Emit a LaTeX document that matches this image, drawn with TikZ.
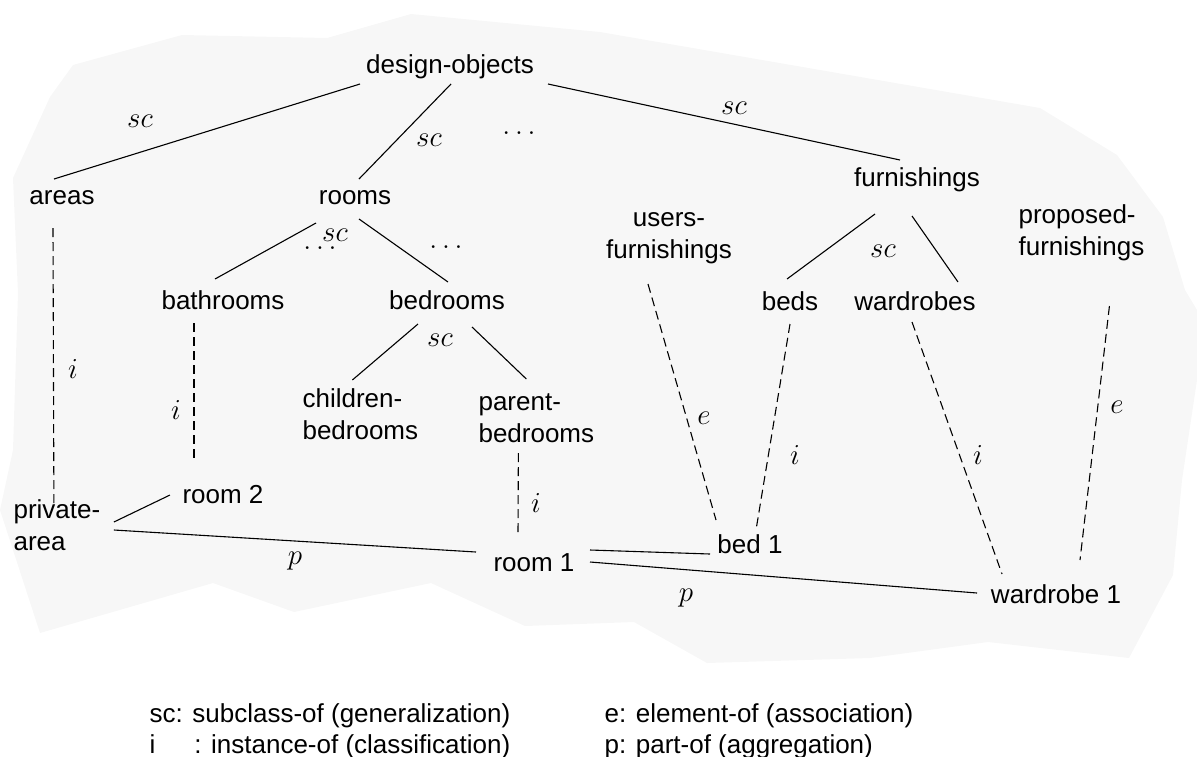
\RequirePackage{fix-cm}
\documentclass[tikz,border=0pt]{standalone}
\usepackage{fontspec}
\setmainfont{Liberation Sans}
\usetikzlibrary{calc}
\definecolor{blobgray}{RGB}{247,247,247}

\begin{document}
\begin{tikzpicture}[x=0.5pt, y=-0.5pt, line width=0.55pt]

  % Styles for the class names, the link labels and the dashed links
  \tikzset{
    concept/.style={inner sep=0pt, font=\fontsize{13}{16}\selectfont},
    rel/.style={inner sep=0pt, font=\fontsize{14.5}{17}\selectfont},
    dashlink/.style={dash pattern=on 4.5pt off 2.5pt}
  }

  \useasboundingbox (0,0) rectangle (1197,756);

  % 1. Grey background outline
  \fill[blobgray] (73,65) -- (182,35) -- (327,38) -- (411,14) -- (600,32)
    -- (1040,108) -- (1117,155) -- (1163,217) -- (1185,290) -- (1197,310)
    -- (1197,380) -- (1182,480) -- (1173,575) -- (1129,658) -- (988,642)
    -- (870,658) -- (707,663) -- (634,622) -- (525,626) -- (431,583)
    -- (294,612) -- (213,583) -- (40,633) -- (0,510) -- (13,450)
    -- (18,293) -- (13,178) -- (50,97) -- cycle;

  % 2. Class and instance names (two-line names sit on their last line)
  \node[concept, anchor=base] (dobj) at (450,73) {design-objects};
  \node[concept, anchor=base] (areas) at (62,204) {areas};
  \node[concept, anchor=base] (rooms) at (355,204) {rooms};
  \node[concept, anchor=base] (furn) at (917,186) {furnishings};
  \node[concept, anchor=base] (bath) at (223,309) {bathrooms};
  \node[concept, anchor=base] (bedr) at (447,309) {bedrooms};
  \node[concept, anchor=base] (beds) at (790,310) {beds};
  \node[concept, anchor=base] (wardr) at (915,310) {wardrobes};
  \node[concept, anchor=base, align=center] (users) at (669,258) {users-\\furnishings};
  \node[concept, anchor=base west, align=left] (prop) at (1018,255) {proposed-\\furnishings};
  \node[concept, anchor=base west, align=left] (child) at (302,439) {children-\\bedrooms};
  \node[concept, anchor=base west, align=left] (parent) at (478,442) {parent-\\bedrooms};
  \node[concept, anchor=base west, align=left] (priv) at (13,550) {private-\\area};
  \node[concept, anchor=base] (room2) at (223,503) {room 2};
  \node[concept, anchor=base] (room1) at (534,571) {room 1};
  \node[concept, anchor=base] (bed1) at (750,553) {bed 1};
  \node[concept, anchor=base] (wrd1) at (1056,603) {wardrobe 1};

  % --- DRAWING LINES ---
  % Subclass links
  \draw ($(dobj.base)+(-90,11)$) -- ($(areas.base)+(-8,-25)$);
  \draw ($(dobj.base)+(1,11)$) -- ($(rooms.base)+(4,-25)$);
  \draw ($(dobj.base)+(98,11)$) -- ($(furn.base)+(-17,-26)$);
  \draw ($(rooms.base)+(-39,19)$) -- ($(bath.base)+(-8,-30)$);
  \draw ($(rooms.base)+(4,15)$) -- ($(bedr.base)+(1,-27)$);
  \draw ($(bedr.base)+(-29,15)$) -- ($(child.base)+(-8,-59)$);
  \draw ($(bedr.base)+(25,18)$) -- ($(parent.base)+(-10,-63)$);
  \draw ($(furn.base)+(-42,28)$) -- ($(beds.base)+(-3,-31)$);
  \draw ($(furn.base)+(-5,30)$) -- ($(wardr.base)+(43,-28)$);

  % Part-of links
  \draw ($(priv.base)+(57,-28)$) -- ($(room2.base)+(-53,-8)$);
  \draw ($(priv.base)+(57,-20)$) -- ($(room1.base)+(-58,-19)$);
  \draw ($(room1.base)+(56,-21)$) -- ($(bed1.base)+(-40,1)$);
  \draw ($(room1.base)+(56,-9)$) -- ($(wrd1.base)+(-79,-10)$);

  % Instance and element links
  \draw[dashlink] ($(areas.base)+(-9,24)$) -- ($(priv.base)+(-3,-47)$);
  \draw[dashlink] ($(bath.base)+(-29,14)$) -- ($(room2.base)+(-29,-43)$);
  \draw[dashlink] ($(parent.base)+(-18,11)$) -- ($(room1.base)+(-16,-36)$);
  \draw[dashlink] ($(users.base)+(-21,26)$) -- ($(bed1.base)+(-34,-33)$);
  \draw[dashlink] ($(beds.base)+(0,14)$) -- ($(bed1.base)+(6,-23)$);
  \draw[dashlink] ($(wardr.base)+(-3,12)$) -- ($(wrd1.base)+(-54,-29)$);
  \draw[dashlink] ($(prop.base)+(28,51)$) -- ($(wrd1.base)+(24,-43)$);

  % --- LINK LABELS ---
  \node[rel] (sc1) at (140,121) {$sc$};
  \node[rel] (sc2) at (429,140) {$sc$};
  \node[rel] (sc3) at (734,108) {$sc$};
  \node[rel] (sc4) at (335,235) {$sc$};
  \node[rel] (sc5) at (440,340) {$sc$};
  \node[rel] (sc6) at (883,251) {$sc$};
  \node[rel] (dots1) at (519,133) {$\ldots$};
  \node[rel] (dots2) at (320,248) {$\ldots$};
  \node[rel] (dots3) at (446,247) {$\ldots$};
  \node[rel] (i1) at (73,369) {$i$};
  \node[rel] (i2) at (176,410) {$i$};
  \node[rel] (i3) at (536,503) {$i$};
  \node[rel] (i4) at (795,455) {$i$};
  \node[rel] (i5) at (978,455) {$i$};
  \node[rel] (e1) at (704,418) {$e$};
  \node[rel] (e2) at (1117,407) {$e$};
  \node[rel] (p1) at (295,561) {$p$};
  \node[rel] (p2) at (686,598) {$p$};

  % --- KEY ---
  \node[concept, anchor=base west] (keysc) at (149,722) {sc: subclass-of (generalization)};
  \node[concept, anchor=base west] (keyi) at (149,753) {i\hspace{1.5em}: instance-of (classification)};
  \node[concept, anchor=base west] (keye) at (604,722) {e: element-of (association)};
  \node[concept, anchor=base west] (keyp) at (604,753) {p: part-of (aggregation)};

\end{tikzpicture}
\end{document}
